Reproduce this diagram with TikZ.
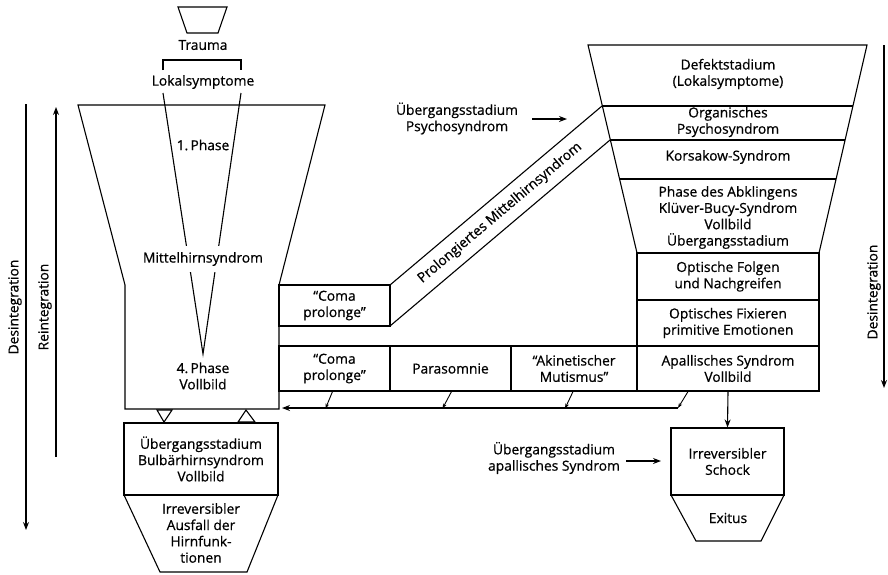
\documentclass[tikz,border=0pt]{standalone}
\usepackage{fontspec}
\setmainfont{Open Sans}
\newfontfamily\diafont{Open Sans}[FakeBold=0.7]
\usetikzlibrary{positioning,arrows.meta}

\begin{document}
\begin{tikzpicture}[x=1pt,y=-1pt,
    line width=1.1pt,
    every node/.style={font=\diafont\fontsize{13.8}{16.3}\selectfont,align=center,inner sep=1pt},
    cell/.style={draw,minimum height=45,inner sep=0pt},
    arrow/.style={-{Stealth[length=8pt,width=6pt]}},
    smallarrow/.style={-{Stealth[length=5pt,width=3.5pt]},line width=0.9pt}
]
\useasboundingbox (0,0) rectangle (888,574);

% left column
\draw (178,7) -- (227,7) -- (218,33) -- (187,33) -- cycle;
\node (trauma) at (203,45) {Trauma};
\draw (163,70) -- (163,60) -- (241,60) -- (241,70);
\node (lokal) at (203,82) {Lokalsymptome};
\draw (78,105) -- (325,105) -- (279,285) -- (279,409) -- (125,409) -- (125,285) -- cycle;
\draw (163,93) -- (203,354) -- (241,93);
\node (phase1) at (203,145) {1.\,Phase};
\node[fill=white,inner ysep=6pt] (mittel) at (203,259) {Mittelhirnsyndrom};
\node (phase4) at (203,376) {4.\,Phase\\Vollbild};
\draw (157,410) -- (172,410) -- (164,422) -- cycle;
\draw (238,422) -- (255,422) -- (246,410) -- cycle;
\node[cell,minimum width=154,minimum height=72] (bulbaer) at (201,459) {Übergangsstadium\\Bulbärhirnsyndrom\\Vollbild};
\draw (124,495) -- (160,572) -- (247,572) -- (278,495);
\node (ausfall) at (201,533) {Irreversibler\\Ausfall der\\Hirnfunk-\\tionen};

% middle
\node[cell,minimum width=111,minimum height=41] (coma1) at (334.5,305.5) {\textquotedblleft Coma\\prolonge\textquotedblright};
\draw (390,285) -- (602,106);
\draw (390,326) -- (610,140);
\node[rotate=40.2,inner sep=0pt] (prolong) at (500,213) {Prolongiertes Mittelhirnsyndrom};
\node[cell,minimum width=111] (coma2) at (334.5,368.5) {\textquotedblleft Coma\\prolonge\textquotedblright};
\node[cell,minimum width=121] (paras) at (450.5,368.5) {Parasomnie};
\node[cell,minimum width=126] (akin) at (574,368.5) {\textquotedblleft Akinetischer\\Mutismus\textquotedblright};
\node (psycho) at (457,118.5) {Übergangsstadium\\Psychosyndrom};
\coordinate (psychoend) at (567,119);
\draw[arrow] (532,119) -- (psychoend);

% right column
\draw (588,45) -- (867,45) -- (819,253) -- (637,253) -- cycle;
\draw (602.4,106) -- (852.9,106);
\draw (610.4,140) -- (845.1,140);
\draw (619.6,179) -- (836.1,179);
\node (defekt) at (728,74) {Defektstadium\\(Lokalsymptome)};
\node (organ) at (728,122) {Organisches\\Psychosyndrom};
\node (korsakow) at (728,157) {Korsakow-Syndrom};
\node (abkling) at (728,217.5) {Phase des Abklingens\\Klüver-Bucy-Syndrom\\Vollbild\\Übergangsstadium};
\node[cell,minimum width=182,minimum height=47] (folgen) at (728,276.5) {Optische Folgen\\und Nachgreifen};
\node[cell,minimum width=182,minimum height=46] (fixier) at (728,323) {Optisches Fixieren\\primitive Emotionen};
\node[cell,minimum width=182] (apall) at (728,368.5) {Apallisches Syndrom\\Vollbild};
\node[cell,minimum width=113,minimum height=67] (schock) at (727.5,461.5) {Irreversibler\\Schock};
\draw (671,495) -- (696,541) -- (761,541) -- (784,495);
\node (exitus) at (728,518) {Exitus};
\node (apaltext) at (554,458) {Übergangsstadium\\apallisches Syndrom};

% connectors
\coordinate (sammel) at (678,408);
\draw[smallarrow] ([xshift=-40]apall.south) -- (sammel);
\draw[arrow] (sammel) -- (282,408);
\draw[smallarrow] ([xshift=-2]coma2.south) -- ++(-7,17);
\draw[smallarrow] ([xshift=1]paras.south) -- ++(-9,17);
\draw[smallarrow] ([xshift=-1]akin.south) -- ++(-8,17);
\draw[arrow] (apall.south) -- (schock.north);
\draw[arrow] (626,461) -- (661,461);

% side arrows
\draw[arrow] (26,104) -- (26,530);
\node[rotate=90] (desint1) at (15,307) {Desintegration};
\draw[arrow] (56,457) -- (56,107);
\node[rotate=90] (reint) at (45,307) {Reintegration};
\draw[arrow] (884,45) -- (884,388);
\node[rotate=90] (desint2) at (874,292) {Desintegration};

\end{tikzpicture}
\end{document}
